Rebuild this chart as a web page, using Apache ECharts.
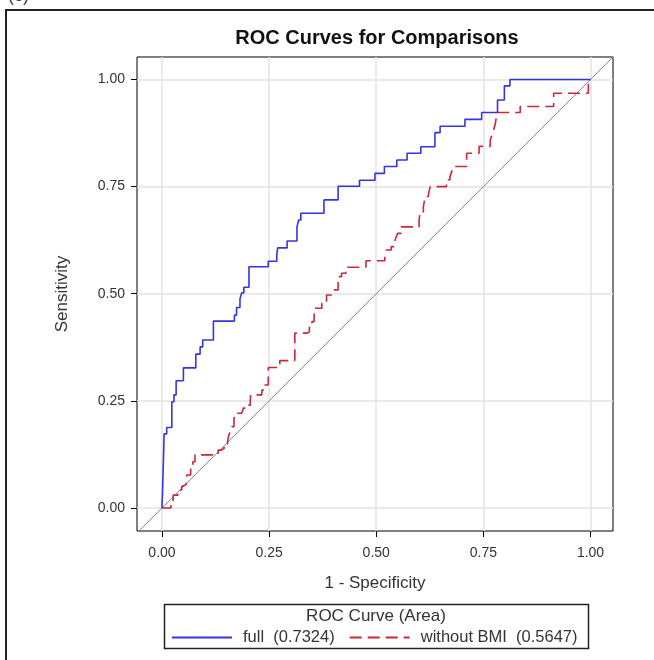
<!DOCTYPE html>
<html><head><meta charset="utf-8">
<script src="https://cdn.jsdelivr.net/npm/echarts@6/dist/echarts.min.js"></script>
<style>html,body{margin:0;padding:0;background:#fff}#c{width:654px;height:660px}</style>
</head><body><div id="c"></div>
<script>
// ---- data ----
const xTicks = [0, 0.25, 0.5, 0.75, 1];
const yTicks = [0, 0.25, 0.5, 0.75, 1];
const seriesNames = ['full  (0.7324)', 'without BMI  (0.5647)'];
const fullFpr = [0,0.002,0.005,0.011,0.023,0.028,0.033,0.050,0.079,0.089,0.095,0.120,0.169,0.174,0.182,0.186,0.191,0.203,0.248,0.268,0.270,0.292,0.315,0.319,0.324,0.378,0.411,0.461,0.497,0.519,0.548,0.572,0.604,0.637,0.649,0.707,0.746,0.783,0.799,0.812,1];
const fullTpr = [0,0.061,0.173,0.188,0.248,0.264,0.297,0.327,0.359,0.376,0.392,0.436,0.450,0.468,0.488,0.502,0.515,0.563,0.576,0.592,0.607,0.623,0.656,0.672,0.688,0.719,0.751,0.765,0.781,0.797,0.812,0.828,0.843,0.876,0.891,0.907,0.923,0.952,0.985,1.0,1];
const noBmiFpr = [0,0.021,0.026,0.037,0.046,0.050,0.056,0.058,0.067,0.072,0.077,0.131,0.139,0.145,0.153,0.156,0.159,0.163,0.168,0.170,0.186,0.190,0.198,0.206,0.207,0.233,0.240,0.248,0.275,0.310,0.338,0.344,0.350,0.355,0.373,0.384,0.396,0.400,0.411,0.419,0.429,0.476,0.520,0.524,0.535,0.543,0.547,0.550,0.558,0.600,0.602,0.610,0.614,0.622,0.626,0.664,0.672,0.676,0.680,0.711,0.740,0.766,0.770,0.774,0.778,0.782,0.836,0.914,0.995,1];
const noBmiTpr = [0,0.017,0.030,0.042,0.050,0.054,0.058,0.077,0.093,0.108,0.124,0.135,0.139,0.147,0.155,0.170,0.178,0.190,0.207,0.221,0.222,0.233,0.240,0.252,0.264,0.275,0.287,0.328,0.344,0.408,0.411,0.423,0.435,0.466,0.478,0.497,0.501,0.509,0.540,0.548,0.562,0.577,0.587,0.602,0.610,0.622,0.634,0.641,0.656,0.672,0.688,0.703,0.727,0.734,0.750,0.766,0.773,0.785,0.797,0.828,0.844,0.859,0.870,0.882,0.898,0.923,0.937,0.968,1.0,1];
const refX = [-0.1, 1.1];
const refY = [-0.1, 1.1];

const zip = (a, b) => a.map((v, i) => [v, b[i]]);
const FONT = '"Liberation Sans", Arial, sans-serif';

const chart = echarts.init(document.getElementById('c'), null, {renderer: 'canvas'});
const axisCommon = (name, min, max, ticks, gap, labelMargin) => ({
  type: 'value', min: min, max: max,
  name: name, nameLocation: 'middle', nameGap: gap,
  nameTextStyle: {fontFamily: FONT, fontSize: 17, color: '#333'},
  axisLine: {show: false, onZero: false},
  axisTick: {show: true, inside: false, customValues: ticks, length: 6, lineStyle: {color: '#000', width: 1}},
  axisLabel: {customValues: ticks, formatter: v => v.toFixed(2), fontFamily: FONT, fontSize: 14, color: '#333', margin: labelMargin},
  splitLine: {show: true, lineStyle: {color: '#e3e3e3', width: 1.5}}
});

chart.setOption({
  animation: false,
  backgroundColor: '#fff',
  grid: {left: 137, top: 57, width: 476, height: 474, show: true, borderColor: '#000', borderWidth: 1, backgroundColor: 'transparent'},
  xAxis: axisCommon('1 - Specificity', -0.0583, 1.0525, xTicks, 44, 15),
  yAxis: axisCommon('Sensitivity', -0.0537, 1.0525, yTicks, 66, 12),
  legend: {
    left: 166, top: 624, itemWidth: 60, itemHeight: 14, itemGap: 14,
    itemStyle: {color: 'transparent', opacity: 0, borderWidth: 0},
    textStyle: {fontFamily: FONT, fontSize: 16.5, color: '#333', padding: [0, 0, 0, 6]},
    data: seriesNames
  },
  graphic: [
    {type: 'rect', shape: {x: 6, y: 10, width: 700, height: 700}, style: {fill: 'none', stroke: '#222', lineWidth: 2}, silent: true},
    {type: 'text', x: 8, y: -13, style: {text: '(c)', fontFamily: FONT, fontSize: 18, fill: '#444'}},
    {type: 'text', x: 377, y: 38, style: {text: 'ROC Curves for Comparisons', fontFamily: FONT, fontSize: 20, fontWeight: 'bold', fill: '#111', align: 'center', verticalAlign: 'middle'}},
    {type: 'rect', shape: {x: 164.5, y: 604.5, width: 424, height: 44}, style: {fill: 'none', stroke: '#222', lineWidth: 1.5}, silent: true},
    {type: 'text', x: 376, y: 616, style: {text: 'ROC Curve (Area)', fontFamily: FONT, fontSize: 17, fill: '#333', align: 'center', verticalAlign: 'middle'}}
  ],
  series: [
    {name: 'reference', type: 'line', data: zip(refX, refY), symbol: 'none', clip: true, silent: true,
     lineStyle: {color: '#8c8c8c', width: 1}, z: 1},
    {name: seriesNames[0], type: 'line', step: 'end', data: zip(fullFpr, fullTpr), symbol: 'none', clip: true,
     lineStyle: {color: '#3535e0', width: 1.6}, itemStyle: {color: '#3535e0'}, z: 3},
    {name: seriesNames[1], type: 'line', step: 'end', data: zip(noBmiFpr, noBmiTpr), symbol: 'none', clip: true,
     lineStyle: {color: '#c8283a', width: 1.6, type: [12, 6]}, itemStyle: {color: '#c8283a'}, z: 2}
  ]
});
</script>
</body></html>
